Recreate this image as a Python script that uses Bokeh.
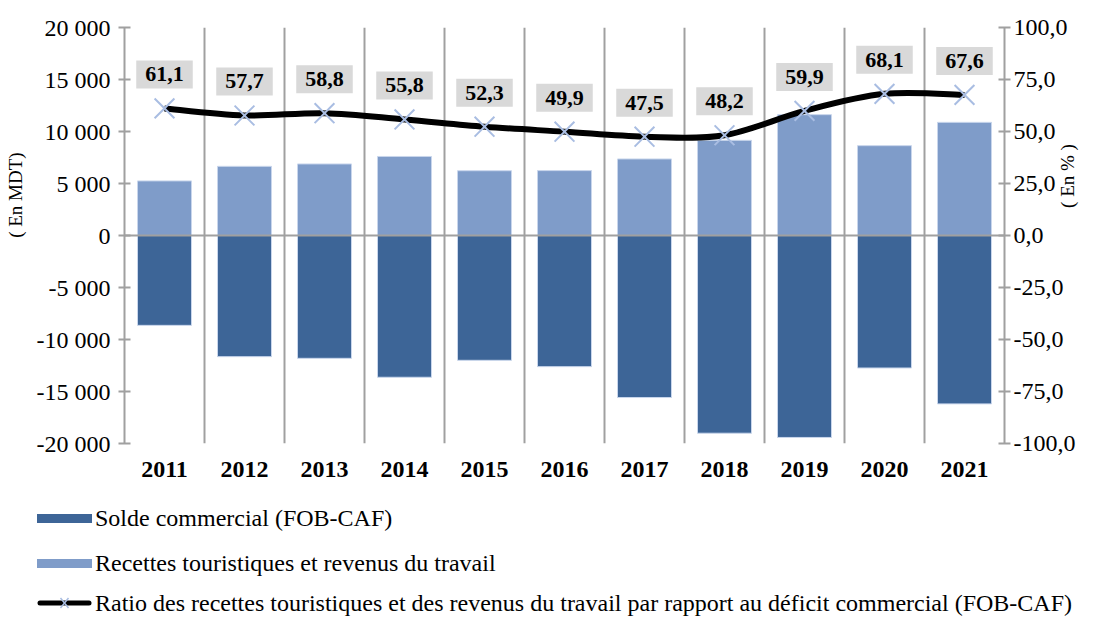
import math
from bokeh.plotting import figure
from bokeh.layouts import column
from bokeh.models import (Range1d, LinearAxis, FixedTicker, Span, ColumnDataSource, Div)
from bokeh.core.properties import value
from bokeh.embed import file_html
from bokeh.resources import INLINE

# ---------------- data ----------------
years = ["2011", "2012", "2013", "2014", "2015", "2016", "2017", "2018", "2019", "2020", "2021"]
recettes = [5250, 6650, 6880, 7600, 6230, 6240, 7360, 9150, 11620, 8640, 10880]
solde = [-8640, -11650, -11810, -13630, -12000, -12610, -15580, -19010, -19420, -12740, -16190]
ratio = [61.1, 57.7, 58.8, 55.8, 52.3, 49.9, 47.5, 48.2, 59.9, 68.1, 67.6]
left_ticks = [-20000, -15000, -10000, -5000, 0, 5000, 10000, 15000, 20000]
right_ticks = [-100, -75, -50, -25, 0, 25, 50, 75, 100]
left_title = "( En MDT)"
right_title = "( En % )"
legend_labels = ["Solde commercial (FOB-CAF)",
                 "Recettes touristiques et revenus du travail",
                 "Ratio des recettes touristiques et des revenus du travail par rapport au déficit commercial (FOB-CAF)"]

FONT = "Liberation Serif"
GRAY = "#a0a0a0"
DARK = "#3d6597"
LIGHT = "#7f9cc9"
MARK = "#a9bde2"
EDGE = "#c9d6ec"
NBSP = "\u00a0"

n = len(years)
xs = [i + 0.5 for i in range(n)]

p = figure(width=1078, height=490, x_range=Range1d(0, n), y_range=Range1d(-20000, 20000),
           output_backend="svg", toolbar_location=None,
           min_border_left=124, min_border_right=71, min_border_top=27, min_border_bottom=47)
p.extra_y_ranges = {"pct": Range1d(-100, 100)}
p.outline_line_color = None
p.background_fill_color = "white"
p.border_fill_color = "white"

# grid: vertical lines between categories
p.ygrid.grid_line_color = None
p.xgrid.ticker = FixedTicker(ticks=list(range(1, n)))
p.xgrid.grid_line_color = GRAY
p.xgrid.grid_line_width = 2

# bars
src = ColumnDataSource(dict(x=xs, rec=recettes, sol=solde, ratio=ratio,
                            lab=[f"{r:.1f}".replace(".", ",") for r in ratio]))
p.vbar(x="x", top="rec", bottom=0, width=0.675, source=src,
       fill_color=LIGHT, line_color=EDGE, line_width=1)
p.vbar(x="x", top=0, bottom="sol", width=0.675, source=src,
       fill_color=DARK, line_color=EDGE, line_width=1)

p.add_layout(Span(location=0, dimension="width", line_color=GRAY, line_width=2))

# smooth ratio line (Catmull-Rom to Bezier on the data points)
x0s, y0s, x1s, y1s, cx0, cy0, cx1, cy1 = [], [], [], [], [], [], [], []
for i in range(n - 1):
    xm, ym = xs[max(i - 1, 0)], ratio[max(i - 1, 0)]
    xa, ya = xs[i], ratio[i]
    xb, yb = xs[i + 1], ratio[i + 1]
    xp, yp = xs[min(i + 2, n - 1)], ratio[min(i + 2, n - 1)]
    x0s.append(xa); y0s.append(ya); x1s.append(xb); y1s.append(yb)
    cx0.append(xa + (xb - xm) / 6); cy0.append(ya + (yb - ym) / 6)
    cx1.append(xb - (xp - xa) / 6); cy1.append(yb - (yp - ya) / 6)
bsrc = ColumnDataSource(dict(x0=x0s, y0=y0s, x1=x1s, y1=y1s, cx0=cx0, cy0=cy0, cx1=cx1, cy1=cy1))
p.bezier(x0="x0", y0="y0", x1="x1", y1="y1", cx0="cx0", cy0="cy0", cx1="cx1", cy1="cy1",
         source=bsrc, y_range_name="pct", line_color="black", line_width=6)
p.scatter(x="x", y="ratio", source=src, y_range_name="pct", marker="x",
          size=28, line_color=MARK, line_width=2)

# data labels
p.text(x="x", y="ratio", text="lab", source=src, y_range_name="pct",
       text_font=value(FONT), text_font_style="bold", text_font_size="22px",
       text_color="black", text_align="center", text_baseline="middle",
       y_offset=-34, background_fill_color="#d9d9d9",
       padding=dict(left=9, right=9, top=7, bottom=7))

# left axis
p.yaxis.ticker = FixedTicker(ticks=left_ticks)
p.yaxis.major_label_overrides = {t: f"{t:,}".replace(",", " ") for t in left_ticks}
p.yaxis.axis_label = NBSP * 17 + left_title

# right axis (its title is drawn in the HTML strip below, rotated, to save width)
ax_r = LinearAxis(y_range_name="pct", ticker=FixedTicker(ticks=right_ticks))
ax_r.major_label_overrides = {t: f"{t:.1f}".replace(".", ",") for t in right_ticks}
p.add_layout(ax_r, "right")

for ax in (p.yaxis[0], ax_r):
    ax.axis_line_color = GRAY
    ax.axis_line_width = 2
    ax.major_tick_line_color = GRAY
    ax.major_tick_line_width = 2
    ax.major_tick_in = 6
    ax.major_tick_out = 6
    ax.minor_tick_line_color = None
    ax.major_label_text_font = FONT
    ax.major_label_text_font_size = "24px"
    ax.major_label_text_color = "black"
    ax.major_label_standoff = 8
    ax.axis_label_text_font = FONT
    ax.axis_label_text_font_size = "19px"
    ax.axis_label_text_font_style = "normal"
    ax.axis_label_text_color = "black"
    ax.axis_label_standoff = 8
ax_r.major_label_standoff = 3

# bottom axis
p.xaxis.ticker = FixedTicker(ticks=xs)
p.xaxis.major_label_overrides = {x: y for x, y in zip(xs, years)}
p.xaxis.axis_line_color = None
p.xaxis.major_tick_line_color = None
p.xaxis.minor_tick_line_color = None
p.xaxis.major_label_text_font = FONT
p.xaxis.major_label_text_font_style = "bold"
p.xaxis.major_label_text_font_size = "24px"
p.xaxis.major_label_text_color = "black"
p.xaxis.major_label_standoff = 12

# legend (HTML strip below the chart)
sw_bar = ('<span style="display:inline-block;width:55px;height:9px;background:{c};'
          'margin-right:3px;flex:none"></span>')
sw_line = ('<svg width="55" height="14" style="margin-right:3px;flex:none">'
           '<line x1="3" y1="7" x2="52" y2="7" stroke="black" stroke-width="5" stroke-linecap="round"/>'
           '<path d="M23.5 2 L31.5 12 M31.5 2 L23.5 12" stroke="' + MARK + '" stroke-width="1.5"/></svg>')
swatches = [sw_bar.format(c=DARK), sw_bar.format(c=LIGHT), sw_line]
row_tops = [14, 59, 99]
rows = "".join(
    f'<div style="position:absolute;left:37px;top:{t}px;height:28px;display:flex;'
    f'align-items:center;white-space:nowrap;">{s}<span>{lab}</span></div>'
    for t, s, lab in zip(row_tops, swatches, legend_labels))
right_title_html = (f'<div style="position:absolute;left:1068px;top:-314px;'
                    f'transform:translate(-50%,-50%) rotate(-90deg);white-space:nowrap;'
                    f'font-size:19px;line-height:22px;">{right_title}</div>')
legend_div = Div(text=(f'<div style="position:relative;width:1078px;height:114px;overflow:visible;'
                       f"font-family:'{FONT}';font-size:24px;color:black;line-height:28px;\">"
                       + rows + right_title_html + "</div>"),
                 width=1078, height=114, margin=0, styles={"overflow": "visible"})

layout = column(p, legend_div, spacing=0)
open("out.html", "w").write(file_html(layout, INLINE))
